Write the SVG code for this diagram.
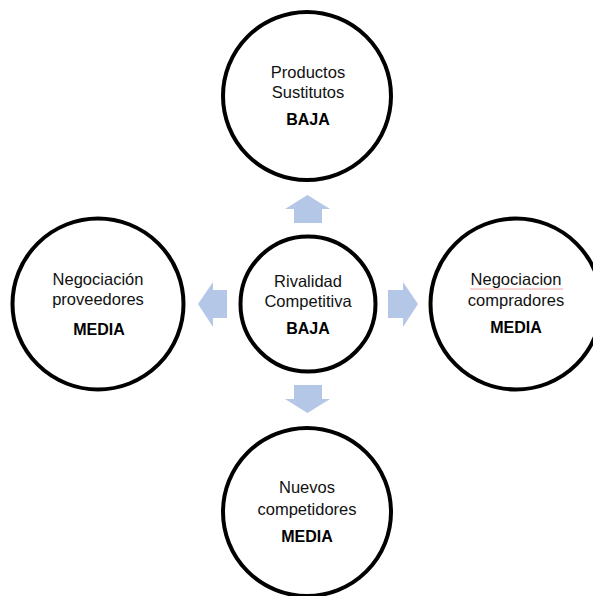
<svg xmlns="http://www.w3.org/2000/svg" width="593" height="596" viewBox="0 0 593 596">
  <style>
    .ring { fill: #ffffff; stroke: #000000; stroke-width: 4; }
    .lbl { font-family: "Liberation Sans", Arial, sans-serif; font-size: 16.5px; fill: #111111; text-anchor: middle; }
    .lvl { font-family: "Liberation Sans", Arial, sans-serif; font-size: 16px; font-weight: bold; fill: #000000; text-anchor: middle; }
    .arrow { fill: #B4C7E7; }
  </style>
  <rect width="593" height="596" fill="#ffffff"/>

  <!-- block arrows pointing outward from the centre -->
  <g id="connectors">
    <polygon class="arrow" points="294,223 294,209 285,209 307.5,195 330,209 322,209 322,223"/>
    <polygon class="arrow" points="294,385 294,399 285,399 307.5,413 330,399 322,399 322,385"/>
    <polygon class="arrow" points="227,290 213,290 213,282 198,304 213,327 213,318 227,318"/>
    <polygon class="arrow" points="388,290 403,290 403,282 418,304 403,327 403,318 388,318"/>
  </g>

  <g id="centro">
    <circle class="ring" cx="308" cy="304" r="67.5"/>
    <text class="lbl" x="308" y="287">Rivalidad</text>
    <text class="lbl" x="308" y="307">Competitiva</text>
    <text class="lvl" x="308" y="334">BAJA</text>
  </g>

  <g id="sustitutos">
    <circle class="ring" cx="307" cy="96" r="84"/>
    <text class="lbl" x="308" y="78">Productos</text>
    <text class="lbl" x="308" y="98">Sustitutos</text>
    <text class="lvl" x="308" y="125">BAJA</text>
  </g>

  <g id="proveedores">
    <circle class="ring" cx="98" cy="304" r="85.5"/>
    <text class="lbl" x="98" y="285">Negociación</text>
    <text class="lbl" x="98" y="305">proveedores</text>
    <text class="lvl" x="99" y="335">MEDIA</text>
  </g>

  <g id="compradores">
    <circle class="ring" cx="516" cy="304" r="85.5"/>
    <text class="lbl" x="516" y="285">Negociacion</text>
    <path d="M470,289 L563,289" stroke="#F2A6A6" stroke-width="1" fill="none"/>
    <text class="lbl" x="516" y="306">compradores</text>
    <text class="lvl" x="516" y="333">MEDIA</text>
  </g>

  <g id="competidores">
    <circle class="ring" cx="307" cy="512" r="84"/>
    <text class="lbl" x="307" y="493">Nuevos</text>
    <text class="lbl" x="307" y="515">competidores</text>
    <text class="lvl" x="307" y="542">MEDIA</text>
  </g>
</svg>
